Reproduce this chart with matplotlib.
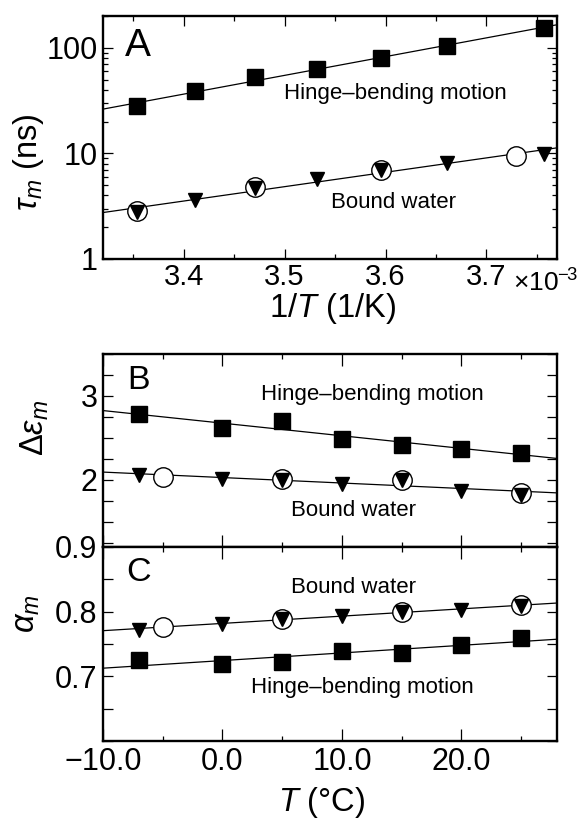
import numpy as np
import matplotlib
matplotlib.use("Agg")
import matplotlib.pyplot as plt
import matplotlib.transforms as mtransforms
from matplotlib.ticker import MultipleLocator, FixedLocator, FuncFormatter, LogLocator, NullFormatter

plt.rcParams['font.family'] = ['Liberation Sans', 'DejaVu Sans']
plt.rcParams['mathtext.fontset'] = 'custom'
plt.rcParams['mathtext.rm'] = 'Liberation Sans'
plt.rcParams['mathtext.it'] = 'Liberation Sans:italic'

# temperatures (deg C) of the measurements
temp_main = [25, 20, 15, 10, 5, 0, -7]
temp_open = [25, 15, 5, -5]

# A: relaxation times (ns)
tau_hinge = [27.9, 39, 52.5, 63.4, 80.5, 103, 155]
tau_water = [2.76, 3.6, 4.75, 5.7, 6.9, 8.05, 9.8]
tau_water_open = [2.83, 4.8, 7.0, 9.4]

# B: relaxation strengths
deps_hinge = [2.32, 2.37, 2.42, 2.49, 2.70, 2.62, 2.79]
deps_water = [1.82, 1.87, 2.00, 1.95, 2.00, 2.01, 2.06]
deps_water_open = [1.84, 2.00, 2.01, 2.04]

# C: shape parameters
alpha_hinge = [0.760, 0.749, 0.736, 0.739, 0.722, 0.719, 0.726]
alpha_water = [0.809, 0.803, 0.799, 0.794, 0.788, 0.781, 0.772]
alpha_water_open = [0.810, 0.800, 0.789, 0.777]

TICK_FS = 22
LABEL_FS = 23.5
NOTE_FS = 16

sq = dict(marker='s', ms=11.3, color='k', ls='none', zorder=3)
tri = dict(marker='v', ms=9.5, color='k', ls='none', zorder=5)
circ = dict(marker='o', ms=14, mfc='white', mec='k', mew=1.0, ls='none', zorder=4)


def inv_k(t):
    return 1.0 / (np.asarray(t, dtype=float) + 273.15)


def style_axes(ax, xmajor_len=7, ymajor_len=7, yminor_len=3.5):
    for sp in ax.spines.values():
        sp.set_linewidth(1.7)
    ax.tick_params(which='both', direction='in', top=True, right=True, width=0.9,
                   labelsize=TICK_FS, pad=4)
    ax.tick_params(axis='x', which='major', length=xmajor_len)
    ax.tick_params(axis='x', which='minor', length=3.5)
    ax.tick_params(axis='y', which='major', length=ymajor_len)
    ax.tick_params(axis='y', which='minor', length=yminor_len)


def minus(s):
    return s.replace('-', '\u2212')


fig = plt.figure(figsize=(5.84, 8.18), dpi=100)
axA = fig.add_axes([0.1764, 0.6834, 0.7774, 0.2971])
axB = fig.add_axes([0.1764, 0.3313, 0.7774, 0.2359])
axC = fig.add_axes([0.1764, 0.0941, 0.7774, 0.2372])

# ---- panel A: Arrhenius plot
xa = inv_k(temp_main)
xo = inv_k(temp_open)
xline = np.array([3.32e-3, 3.77e-3])
for xs, ys in [(xa, tau_hinge), (np.r_[xa, xo], tau_water + tau_water_open)]:
    c = np.polyfit(xs, np.log10(ys), 1)
    axA.plot(xline, 10 ** np.polyval(c, xline), color='k', lw=0.9, zorder=2)
axA.plot(xa, tau_hinge, **sq)
axA.plot(xo, tau_water_open, **circ)
axA.plot(xa, tau_water, **tri)
axA.set_yscale('log')
axA.set_xlim(3.32e-3, 3.77e-3)
axA.set_ylim(1, 200)
axA.xaxis.set_major_locator(MultipleLocator(1e-4))
axA.xaxis.set_minor_locator(MultipleLocator(5e-5))
axA.xaxis.set_major_formatter(FuncFormatter(lambda v, p: f'{v * 1e3:.1f}'))
axA.yaxis.set_major_locator(LogLocator(base=10, numticks=5))
axA.yaxis.set_minor_locator(LogLocator(base=10, subs=np.arange(2, 10), numticks=20))
axA.yaxis.set_major_formatter(FuncFormatter(lambda v, p: f'{v:g}'))
axA.yaxis.set_minor_formatter(NullFormatter())
style_axes(axA)
axA.tick_params(axis='x', labelsize=21, pad=3)
trans = mtransforms.blended_transform_factory(axA.transData, axA.transAxes)
axA.text(3.7e-3, 0, '×10$^{\u2212\\!3}$', fontsize=19, ha='left', va='baseline',
         transform=trans + mtransforms.ScaledTranslation(19 / 72, -23.5 / 72, fig.dpi_scale_trans))
axA.text(0.077, 0.877, 'A', transform=axA.transAxes, fontsize=28, ha='center', va='center')
axA.text(3.610e-3, 37, 'Hinge\u2013bending motion', fontsize=NOTE_FS, ha='center', va='center')
axA.text(3.608e-3, 3.4, 'Bound water', fontsize=NOTE_FS, ha='center', va='center')

# ---- panels B and C: temperature dependence
tline = np.array([-10, 28])
for ax, hinge, water, water_o in [(axB, deps_hinge, deps_water, deps_water_open),
                                  (axC, alpha_hinge, alpha_water, alpha_water_open)]:
    for xs, ys in [(temp_main, hinge), (temp_main + temp_open, water + water_o)]:
        c = np.polyfit(xs, ys, 1)
        ax.plot(tline, np.polyval(c, tline), color='k', lw=0.9, zorder=2)
    ax.plot(temp_main, hinge, **sq)
    ax.plot(temp_open, water_o, **circ)
    ax.plot(temp_main, water, **tri)
    ax.set_xlim(-10, 28)
    ax.xaxis.set_major_locator(MultipleLocator(10))
    ax.xaxis.set_minor_locator(MultipleLocator(5))
    style_axes(ax, xmajor_len=8.5, yminor_len=7)

axB.set_ylim(1.2, 3.5)
axB.yaxis.set_major_locator(FixedLocator([2, 3]))
axB.yaxis.set_minor_locator(MultipleLocator(0.25))
axB.yaxis.set_major_formatter(FuncFormatter(lambda v, p: f'{v:g}'))
axB.tick_params(axis='x', labelbottom=False)
axB.text(0.078, 0.865, 'B', transform=axB.transAxes, fontsize=24.5, ha='center', va='center')
axB.text(12.55, 3.02, 'Hinge\u2013bending motion', fontsize=NOTE_FS, ha='center', va='center')
axB.text(11.0, 1.63, 'Bound water', fontsize=NOTE_FS, ha='center', va='center')

axC.set_ylim(0.6, 0.9)
axC.yaxis.set_major_locator(FixedLocator([0.7, 0.8, 0.9]))
axC.yaxis.set_minor_locator(MultipleLocator(0.05))
axC.yaxis.set_major_formatter(FuncFormatter(lambda v, p: f'{v:.1f}'))
axC.xaxis.set_major_formatter(FuncFormatter(lambda v, p: minus(f'{v:.1f}')))
axC.text(0.079, 0.869, 'C', transform=axC.transAxes, fontsize=24.5, ha='center', va='center')
axC.text(11.0, 0.838, 'Bound water', fontsize=NOTE_FS, ha='center', va='center')
axC.text(11.7, 0.682, 'Hinge\u2013bending motion', fontsize=NOTE_FS, ha='center', va='center')

# axis labels
W, H = 584.0, 818.0
fig.text(29 / W, 1 - 162 / H, r'$\tau_m$ (ns)', rotation=90, fontsize=LABEL_FS, ha='center', va='center')
fig.text(35 / W, 1 - 428 / H, r'$\Delta\varepsilon_m$', rotation=90, fontsize=LABEL_FS, ha='center', va='center')
fig.text(26 / W, 1 - 614 / H, r'$\alpha_m$', rotation=90, fontsize=LABEL_FS, ha='center', va='center')
fig.text(332 / W, 1 - 309 / H, r'$1/T$ (1/K)', fontsize=LABEL_FS, ha='center', va='center')
fig.text(322 / W, 1 - 802 / H, r'$T$ (°C)', fontsize=LABEL_FS, ha='center', va='center')

fig.savefig('out.png', dpi=100)
